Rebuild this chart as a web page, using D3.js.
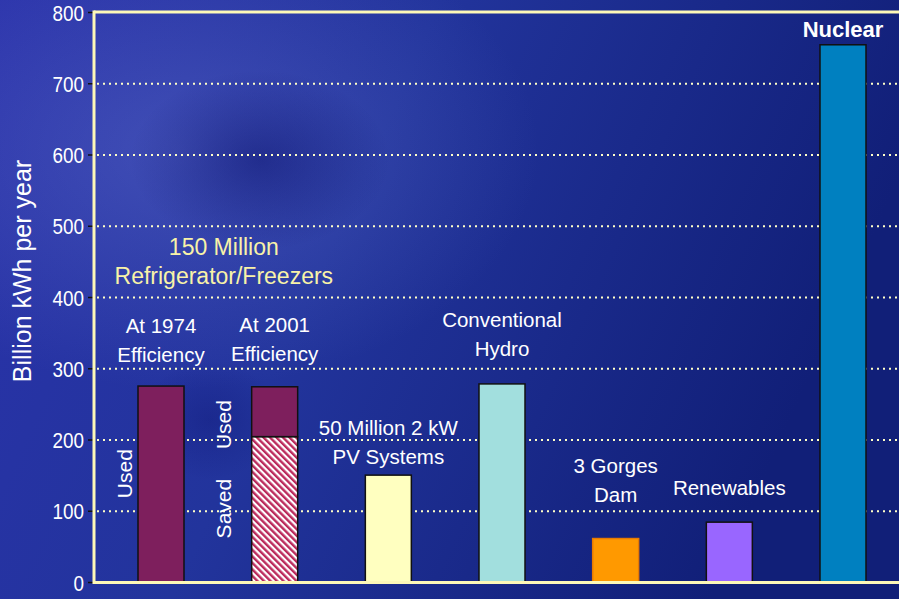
<!DOCTYPE html>
<html>
<head>
<meta charset="utf-8">
<script src="https://cdn.jsdelivr.net/npm/d3@7"></script>
<style>
  html, body { margin: 0; padding: 0; background: #1c2a92; }
  svg { display: block; }
</style>
</head>
<body>
<script>
// chart data
const categories = ["At 1974", "At 2001", "PV", "Hydro", "3 Gorges", "Renewables", "Nuclear"];
const savedValues = [0, 204, 0, 0, 0, 0, 0];
const usedValues = [275, 70, 150, 278, 61, 84, 754];
const barColors = ["#7e1f5d", "#7e1f5d", "#ffffc0", "#a2dfde", "#ff9900", "#9966ff", "#0080c0"];
const labelLines = [
    ["At 1974", "Efficiency"],
    ["At 2001", "Efficiency"],
    ["50 Million 2 kW", "PV Systems"],
    ["Conventional", "Hydro"],
    ["3 Gorges", "Dam"],
    ["Renewables"],
    ["Nuclear"]
];
// label anchor, in chart units
const labelLevels = [349, 351, 206, 358, 153, 122, 765];
const yTicks = [0, 100, 200, 300, 400, 500, 600, 700, 800];

const width = 899, height = 599;
const plotLeft = 94, plotTop = 12, plotBottom = 582;

const svg = d3.select("body")
    .append("svg")
    .attr("width", width)
    .attr("height", height);

const defs = svg.append("defs");

// background gradients
const bg = defs.append("linearGradient").attr("id", "bgGrad")
    .attr("x1", 0).attr("y1", 0).attr("x2", 1).attr("y2", 0.3);
bg.append("stop").attr("offset", 0).attr("stop-color", "#2a32aa");
bg.append("stop").attr("offset", 0.45).attr("stop-color", "#22349c");
bg.append("stop").attr("offset", 1).attr("stop-color", "#111f78");

const glow = defs.append("radialGradient").attr("id", "glow")
    .attr("cx", 0.2).attr("cy", 0.25).attr("r", 0.4);
glow.append("stop").attr("offset", 0).attr("stop-color", "#7080d8").attr("stop-opacity", 0.35);
glow.append("stop").attr("offset", 1).attr("stop-color", "#7080d8").attr("stop-opacity", 0);

const dark = defs.append("radialGradient").attr("id", "dark")
    .attr("cx", 0.5).attr("cy", 0.5).attr("r", 0.5);
dark.append("stop").attr("offset", 0).attr("stop-color", "#060c66").attr("stop-opacity", 0.45);
dark.append("stop").attr("offset", 1).attr("stop-color", "#060c66").attr("stop-opacity", 0);

// hatch for the saved part
const hatch = defs.append("pattern").attr("id", "hatch")
    .attr("patternUnits", "userSpaceOnUse")
    .attr("width", 4.6).attr("height", 4.6)
    .attr("patternTransform", "rotate(-45)");
hatch.append("rect").attr("width", 4.6).attr("height", 4.6).attr("fill", "#ffffff");
hatch.append("rect").attr("width", 2.4).attr("height", 4.6).attr("fill", "#bb2a5c");

svg.append("rect").attr("width", width).attr("height", height).attr("fill", "url(#bgGrad)");
svg.append("rect").attr("width", width).attr("height", height).attr("fill", "url(#glow)");
svg.append("ellipse").attr("cx", 260).attr("cy", 160).attr("rx", 130).attr("ry", 90)
    .attr("fill", "url(#dark)");
svg.append("ellipse").attr("cx", 210).attr("cy", 420).attr("rx", 70).attr("ry", 60)
    .attr("fill", "url(#dark)").attr("opacity", 0.6);

// scales
const x = d3.scalePoint()
    .domain(categories)
    .range([161, 843]);
const y = d3.scaleLinear()
    .domain([0, 800])
    .range([plotBottom, plotTop]);
const barWidth = 46;

// dotted grid
svg.append("g")
    .attr("transform", `translate(${plotLeft},0)`)
    .call(d3.axisLeft(y).tickValues(yTicks.filter(t => t > 0 && t < 800))
        .tickSize(-(width - plotLeft)).tickFormat(""))
    .call(g => g.select(".domain").remove())
    .call(g => g.selectAll("line")
        .attr("stroke", "#ffffc8")
        .attr("stroke-width", 2.2)
        .attr("stroke-dasharray", "2,4")
        .attr("stroke-dashoffset", -3));

// y axis ticks and labels (narrow look)
const narrow = 0.84;
svg.append("g")
    .attr("transform", `translate(${plotLeft - 1},0)`)
    .call(d3.axisLeft(y).tickValues(yTicks).tickSize(5).tickPadding(4))
    .call(g => g.select(".domain").remove())
    .call(g => g.selectAll("line").attr("stroke", "#111").attr("stroke-width", 1.5))
    .call(g => g.selectAll("text")
        .attr("fill", "#ffffff")
        .attr("font-family", "'Liberation Sans', Arial, sans-serif")
        .attr("font-size", 22.5)
        .attr("x", -9 / narrow)
        .attr("transform", `scale(${narrow},1)`)
        .attr("dy", "0.36em"));

svg.append("text")
    .attr("transform", `translate(31,271) rotate(-90)`)
    .attr("text-anchor", "middle")
    .attr("fill", "#ffffff")
    .attr("font-family", "'Liberation Sans', Arial, sans-serif")
    .attr("font-size", 25)
    .text("Billion kWh per year");

// bars
const bars = svg.append("g");
categories.forEach((c, i) => {
    const x0 = x(c) - barWidth / 2;
    if (savedValues[i] > 0) {
        bars.append("rect")
            .attr("x", x0).attr("y", y(savedValues[i]))
            .attr("width", barWidth).attr("height", y(0) - y(savedValues[i]))
            .attr("fill", "url(#hatch)")
            .attr("stroke", "#111").attr("stroke-width", 1.5);
    }
    const base = savedValues[i];
    const topVal = base + usedValues[i];
    bars.append("rect")
        .attr("x", x0).attr("y", y(topVal))
        .attr("width", barWidth).attr("height", y(base) - y(topVal))
        .attr("fill", barColors[i])
        .attr("stroke", c === "3 Gorges" ? "#e87a00" : "#111")
        .attr("stroke-width", 1.5);
});

// frame
const frame = svg.append("g")
    .attr("stroke", "#fdf8b8")
    .attr("stroke-width", 3);
frame.append("line").attr("x1", plotLeft).attr("x2", plotLeft).attr("y1", plotTop - 1.5).attr("y2", plotBottom + 2);
frame.append("line").attr("x1", plotLeft).attr("x2", width).attr("y1", plotTop).attr("y2", plotTop);
frame.append("line").attr("x1", plotLeft).attr("x2", width).attr("y1", plotBottom + 0.5).attr("y2", plotBottom + 0.5);

// category labels
const labels = svg.append("g")
    .attr("font-family", "'Liberation Sans', Arial, sans-serif")
    .attr("text-anchor", "middle")
    .attr("fill", "#ffffff");
categories.forEach((c, i) => {
    const t = labels.append("text")
        .attr("x", x(c))
        .attr("y", y(labelLevels[i]))
        .attr("font-size", c === "Nuclear" ? 22 : 20.5)
        .attr("font-weight", c === "Nuclear" ? "bold" : "normal");
    labelLines[i].forEach((line, j) => {
        t.append("tspan")
            .attr("x", x(c))
            .attr("dy", j === 0 ? 0 : 29)
            .text(line);
    });
});

// refrigerator group title
const midX = (x("At 1974") + x("At 2001")) / 2 + 6;
const title = svg.append("text")
    .attr("x", midX)
    .attr("y", y(459))
    .attr("text-anchor", "middle")
    .attr("fill", "#f8f2a8")
    .attr("font-family", "'Liberation Sans', Arial, sans-serif")
    .attr("font-size", 23);
title.append("tspan").attr("x", midX).text("150 Million");
title.append("tspan").attr("x", midX).attr("dy", 29).text("Refrigerator/Freezers");

// rotated side labels
const sideLabels = [
    { text: "Used", dx: 132, level: 152 },
    { text: "Used", dx: 231, level: 221 },
    { text: "Saved", dx: 231, level: 103 }
];
svg.append("g")
    .selectAll("text")
    .data(sideLabels)
    .join("text")
    .attr("transform", d => `translate(${d.dx},${y(d.level)}) rotate(-90)`)
    .attr("text-anchor", "middle")
    .attr("fill", "#ffffff")
    .attr("font-family", "'Liberation Sans', Arial, sans-serif")
    .attr("font-size", 21)
    .text(d => d.text);
</script>
</body>
</html>
